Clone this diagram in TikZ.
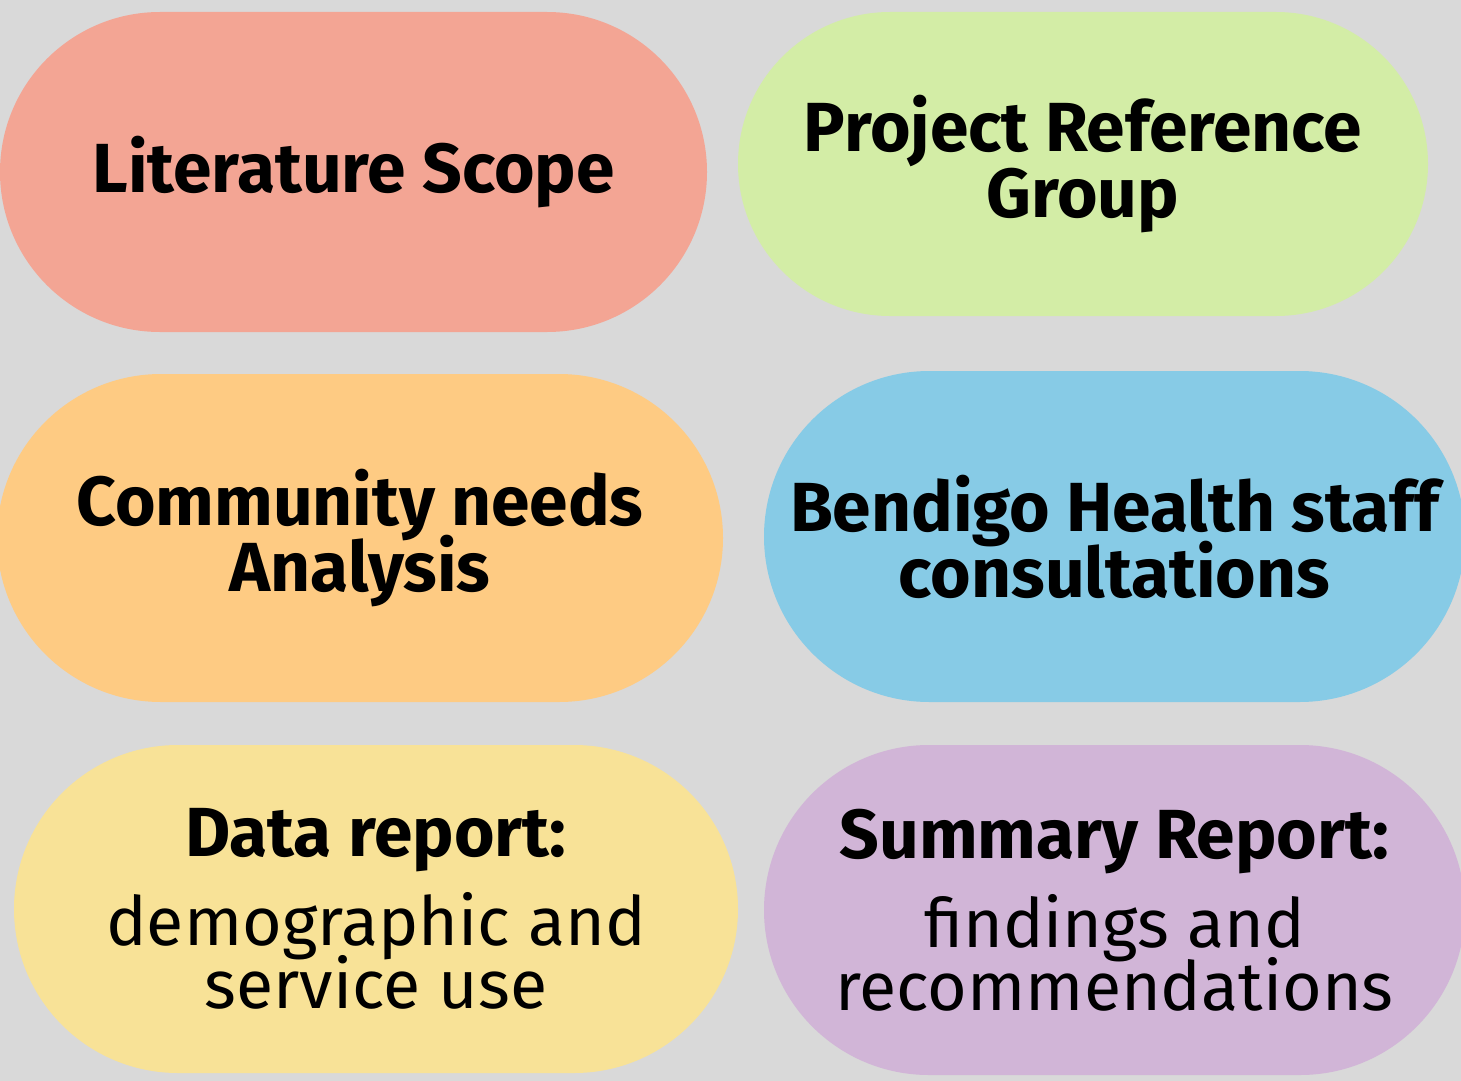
\documentclass[tikz,border=0pt]{standalone}
\usepackage{fontspec}
\setmainfont{Fira Sans}
\usetikzlibrary{shapes.misc}
\definecolor{bgc}{HTML}{D9D9D9}
\definecolor{salmon}{HTML}{F3A594}
\definecolor{lgreen}{HTML}{D3EDA6}
\definecolor{lorange}{HTML}{FECB83}
\definecolor{lblue}{HTML}{87CBE6}
\definecolor{lyellow}{HTML}{F8E297}
\definecolor{lpurple}{HTML}{D1B5D7}
\newcommand\tightlines{\lineskiplimit=-200pt\relax\lineskip=0pt\relax}
\newcommand\hdfont{\fontsize{69.5}{66}\selectfont\bfseries}
\begin{document}
\begin{tikzpicture}[x=1pt,y=-1pt,
  pill/.style={rounded rectangle, draw=none, inner sep=0pt, outer sep=0pt, align=center,
    font=\fontsize{68}{63}\selectfont\tightlines},
  hd/.style={font=\hdfont\tightlines}]
\useasboundingbox (0,0) rectangle (1461,1081);
\fill[bgc] (0,0) rectangle (1461,1081);
\clip (0,0) rectangle (1461,1081);
\node[pill, hd, fill=salmon, minimum width=707pt, minimum height=320pt] (lit) at (353.5,172) {Literature Scope};
\node[pill, hd, fill=lgreen, minimum width=690pt, minimum height=304pt] (prg) at (1083,164) {Project Reference\\Group};
\node[pill, hd, fill=lorange, minimum width=726pt, minimum height=328pt] (cna) at (360,538) {Community needs\\Analysis};
\node[pill, hd, fill=lblue, minimum width=701pt, minimum height=331pt] (bhs) at (1114.5,536.5) {Bendigo Health staff\\consultations};
\node[pill, fill=lyellow, minimum width=724pt, minimum height=328pt] (dat) at (376,909) {{\hdfont Data report:}\\[26pt]demographic and\\service use};
\node[pill, fill=lpurple, minimum width=701pt, minimum height=330pt] (sum) at (1114.5,910) {{\hdfont Summary Report:}\\[26pt]findings and\\recommendations};
\end{tikzpicture}
\end{document}
